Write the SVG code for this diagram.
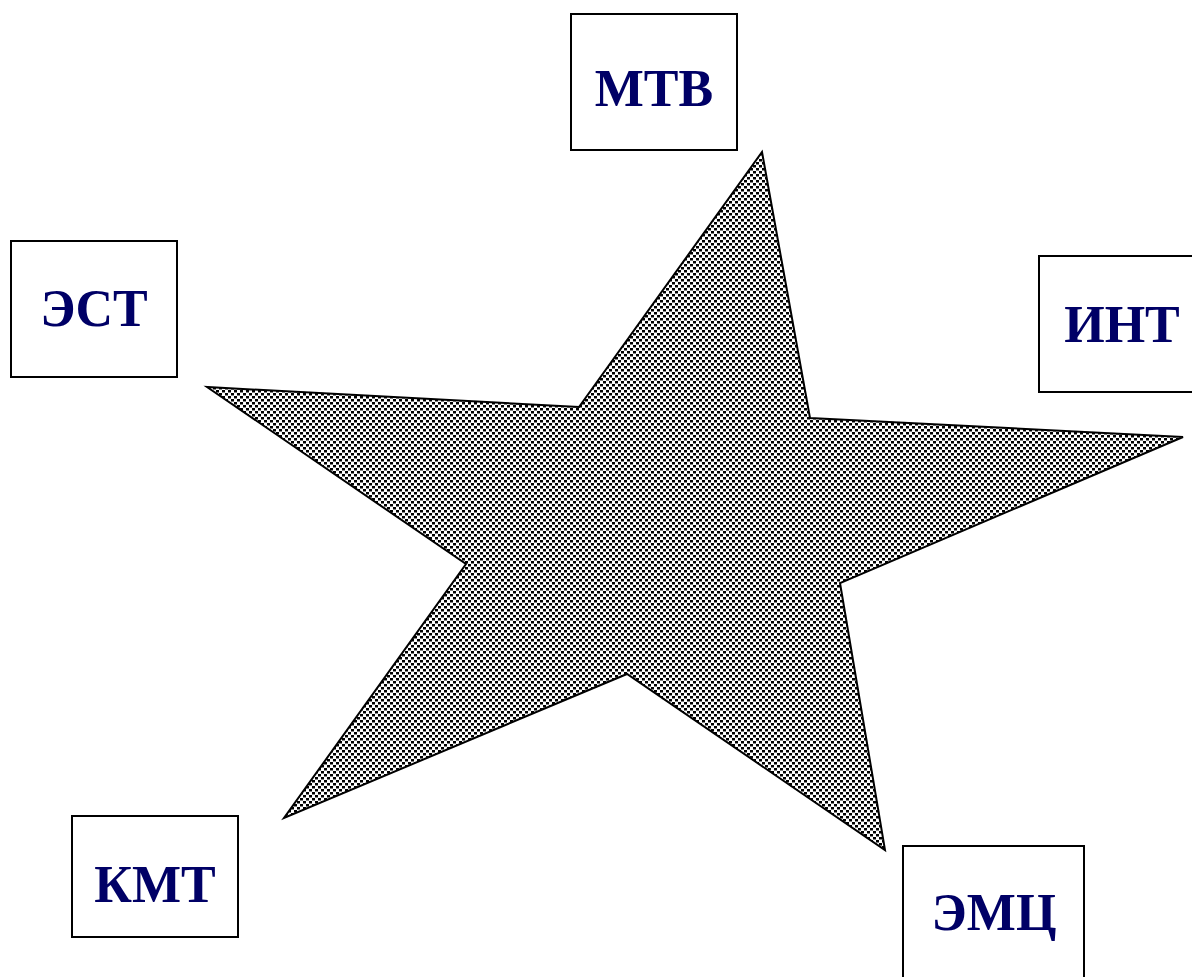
<svg xmlns="http://www.w3.org/2000/svg" width="1192" height="977" viewBox="0 0 1192 977">
<style>
.box{fill:#fff;stroke:#000;stroke-width:2}
.lbl{font-family:"Liberation Serif","Times New Roman",serif;font-weight:bold;font-size:52px;fill:#000066;text-anchor:middle}
</style>
<defs>
<pattern id="dots" patternUnits="userSpaceOnUse" width="6" height="6">
<rect width="6" height="6" fill="#fff"/>
<rect x="0" y="0" width="3" height="2.5" fill="#000"/>
<rect x="3" y="3" width="3" height="2.5" fill="#000"/>
</pattern>
</defs>
<g id="star">
<polygon points="762,152 810,418 1183,437 840,583 885,850 627,674 284,818 466,564 207,387 579,407" fill="url(#dots)" stroke="#000" stroke-width="2"/>
</g>
<g id="connectors"></g>
<g id="n-mtv"><rect class="box" x="571" y="14" width="166" height="136"/><text class="lbl" x="654" y="106">МТВ</text></g>
<g id="n-est"><rect class="box" x="11" y="241" width="166" height="136"/><text class="lbl" x="94" y="326">ЭСТ</text></g>
<g id="n-int"><rect class="box" x="1039" y="256" width="166" height="136"/><text class="lbl" x="1122" y="342">ИНТ</text></g>
<g id="n-kmt"><rect class="box" x="72" y="816" width="166" height="121"/><text class="lbl" x="155" y="902">КМТ</text></g>
<g id="n-emc"><rect class="box" x="903" y="846" width="181" height="140"/><text class="lbl" x="994" y="930">ЭМЦ</text></g>
</svg>
